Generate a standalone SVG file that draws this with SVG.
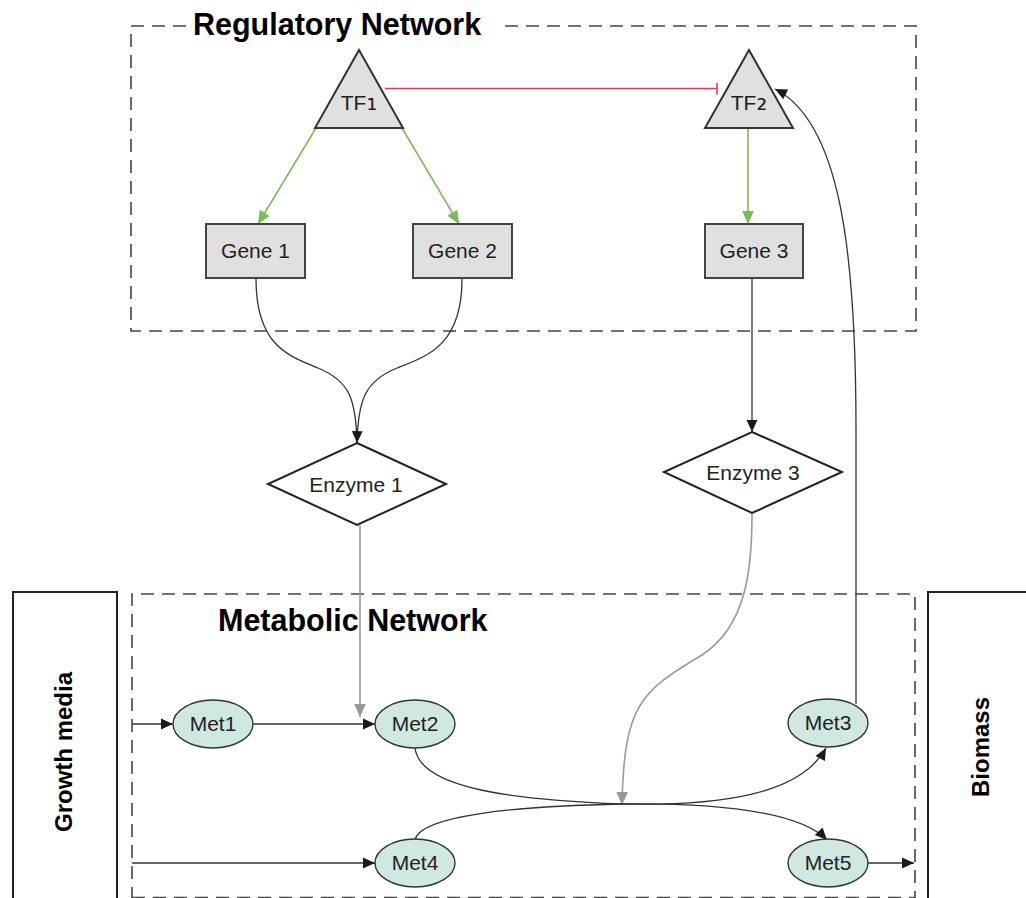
<svg xmlns="http://www.w3.org/2000/svg" width="1026" height="898" viewBox="0 0 1026 898">
<defs>
<style>
.lbl{font-family:"Liberation Sans","DejaVu Sans",Arial,sans-serif;font-size:21px;fill:#222;text-anchor:middle}
.sub{font-family:"DejaVu Sans",sans-serif;font-size:27px}
.title{font-family:"Liberation Sans",Arial,sans-serif;font-size:30.5px;font-weight:bold;fill:#000}
.side{font-family:"Liberation Sans",Arial,sans-serif;font-size:24px;font-weight:bold;fill:#000;text-anchor:middle}
.dash{fill:none;stroke:#444;stroke-width:1.6;stroke-dasharray:13 8}
.gene{fill:#e0e0e0;stroke:#444;stroke-width:2}
.tri{fill:#e0e0e0;stroke:#333;stroke-width:2}
.dia{fill:#fff;stroke:#222;stroke-width:2}
.met{fill:#cfe8e0;stroke:#333;stroke-width:1.4}
.e{fill:none;stroke:#333;stroke-width:1.3}
.g{fill:none;stroke:#7cbb5a;stroke-width:1.6}
.gr{fill:none;stroke:#999;stroke-width:1.6}
.r{fill:none;stroke:#e0404c;stroke-width:1.6}
</style>
<marker id="ab" viewBox="0 0 10 10" refX="10" refY="5" markerWidth="16" markerHeight="12" markerUnits="userSpaceOnUse" orient="auto"><path d="M0,0.5 L10,5 L0,9.5 z" fill="#1a1a1a"/></marker>
<marker id="ag" viewBox="0 0 10 10" refX="10" refY="5" markerWidth="17" markerHeight="13" markerUnits="userSpaceOnUse" orient="auto"><path d="M0,0.5 L10,5 L0,9.5 z" fill="#7cbb5a"/></marker>
<marker id="agr" viewBox="0 0 10 10" refX="10" refY="5" markerWidth="17" markerHeight="13" markerUnits="userSpaceOnUse" orient="auto"><path d="M0,0.5 L10,5 L0,9.5 z" fill="#999"/></marker>
<marker id="tee" viewBox="0 0 4 12" refX="2" refY="6" markerWidth="4" markerHeight="12" markerUnits="userSpaceOnUse" orient="auto"><path d="M2,0 L2,12" stroke="#e0404c" stroke-width="1.6"/></marker>
</defs>
<rect width="1026" height="898" fill="#fff"/>

<g id="regulatory-network">
<path class="dash" d="M186,26 L131,26 L131,331 L916,331 L916,26 L502,26"/>
<text class="title" x="193" y="35">Regulatory Network</text>
</g>
<g id="metabolic-network">
<path class="dash" d="M132,900 L132,594 L915,594 L915,900"/>
<path class="dash" d="M132,897.5 L915,897.5" stroke="#e4e4e4"/>
<text class="title" x="218" y="631">Metabolic Network</text>
</g>
<g id="growth-media">
<rect x="13" y="592" width="104" height="320" fill="#fff" stroke="#222" stroke-width="2"/>
<text class="side" transform="translate(72,752) rotate(-90)">Growth media</text>
</g>
<g id="biomass">
<rect x="928" y="592" width="110" height="320" fill="#fff" stroke="#222" stroke-width="2"/>
<text class="side" transform="translate(989,747) rotate(-90)">Biomass</text>
</g>

<g id="connectors">
<path class="r" d="M385,88.5 L717,88.5" marker-end="url(#tee)"/>
<path class="g" d="M316,128 L258,224" marker-end="url(#ag)"/>
<path class="g" d="M402,128 L459,224" marker-end="url(#ag)"/>
<path class="g" d="M748,128 L748,224" marker-end="url(#ag)"/>
<path class="e" d="M256,279 C256,345 288,356 318,368 C350,381 356,400 357,443"/>
<path class="e" d="M462,279 C462,345 428,356 397,368 C365,381 358,400 357,443" marker-end="url(#ab)"/>
<path class="e" d="M752,279 L752,432" marker-end="url(#ab)"/>
<path class="gr" d="M360,525 L360,717" marker-end="url(#agr)"/>
<path class="gr" d="M752,513 C752,565 748,625 702,655 C640,692 624,705 622,805" marker-end="url(#agr)"/>
<path class="e" d="M856,704 L856,430 C856,250 840,122 775,89" marker-end="url(#ab)"/>
<path class="e" d="M132,724 L173,724" marker-end="url(#ab)"/>
<path class="e" d="M253,724 L375,724" marker-end="url(#ab)"/>
<path class="e" d="M132,863 L375,863" marker-end="url(#ab)"/>
<path class="e" d="M868,863 L914,863" marker-end="url(#ab)"/>
<path class="e" d="M415,748 C420,790 520,800 622,804 C720,806 800,795 826,748" marker-end="url(#ab)"/>
<path class="e" d="M415,840 C420,815 520,806 622,804 C720,803 800,812 827,840" marker-end="url(#ab)"/>
</g>

<g id="tf1"><polygon class="tri" points="359,50 315,128 403,128"/><text class="lbl" x="359" y="110">TF<tspan class="sub">₁</tspan></text></g>
<g id="tf2"><polygon class="tri" points="749,50 705,128 793,128"/><text class="lbl" x="749" y="110">TF<tspan class="sub">₂</tspan></text></g>
<g id="gene1"><rect class="gene" x="206" y="224" width="99" height="54"/><text class="lbl" x="255.5" y="258">Gene 1</text></g>
<g id="gene2"><rect class="gene" x="413" y="224" width="99" height="54"/><text class="lbl" x="462.5" y="258">Gene 2</text></g>
<g id="gene3"><rect class="gene" x="705" y="224" width="98" height="54"/><text class="lbl" x="754" y="258">Gene 3</text></g>
<g id="enzyme1"><polygon class="dia" points="357,443 446,484 357,525 268,484"/><text class="lbl" x="356" y="492">Enzyme 1</text></g>
<g id="enzyme3"><polygon class="dia" points="752,432 842,472 752,513 664,472"/><text class="lbl" x="753" y="480">Enzyme 3</text></g>
<g id="met1"><ellipse class="met" cx="213" cy="724" rx="40" ry="24"/><text class="lbl" x="213" y="731">Met1</text></g>
<g id="met2"><ellipse class="met" cx="415" cy="724" rx="40" ry="24"/><text class="lbl" x="415" y="731">Met2</text></g>
<g id="met3"><ellipse class="met" cx="828" cy="723" rx="40" ry="24"/><text class="lbl" x="828" y="730">Met3</text></g>
<g id="met4"><ellipse class="met" cx="415" cy="863" rx="40" ry="24"/><text class="lbl" x="415" y="870">Met4</text></g>
<g id="met5"><ellipse class="met" cx="828" cy="863" rx="40" ry="24"/><text class="lbl" x="828" y="870">Met5</text></g>
</svg>
